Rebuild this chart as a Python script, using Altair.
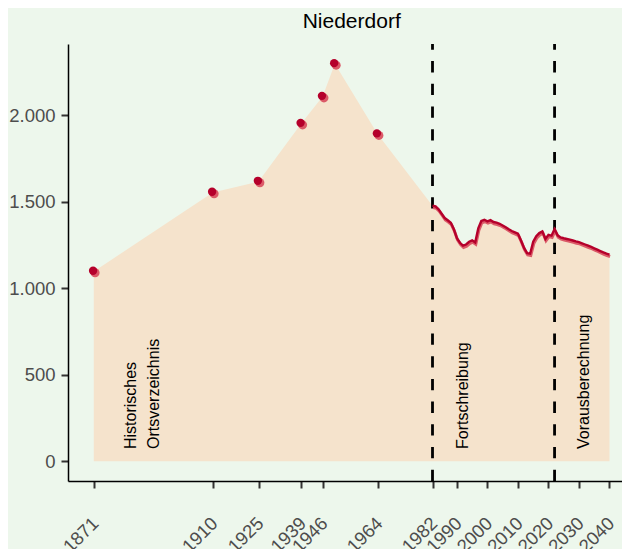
import altair as alt
import pandas as pd

# ---- data ----
hist_years = [1871, 1910, 1925, 1939, 1946, 1950, 1964]
hist_values = [1096, 1553, 1616, 1951, 2107, 2296, 1890]

series_years = list(range(1982, 2041))
series_values = [
    1476, 1472, 1455, 1430, 1405, 1392, 1378, 1340, 1289, 1262,
    1245, 1252, 1268, 1276, 1264, 1345, 1388, 1395, 1386, 1393,
    1382, 1378, 1372, 1362, 1352, 1340, 1330, 1322, 1314, 1275,
    1232, 1202, 1199, 1268, 1300, 1318, 1328, 1284, 1308, 1303,
    1341, 1305, 1293, 1288, 1284, 1280, 1275, 1270, 1266, 1259,
    1252, 1245, 1238, 1230, 1222, 1214, 1206, 1199, 1193,
]

break_years = [1982, 2022]
x_ticks = [1871, 1910, 1925, 1939, 1946, 1964, 1982, 1990, 2000, 2010, 2020, 2030, 2040]
y_ticks = [0, 500, 1000, 1500, 2000]

note_texts = ["Historisches\nOrtsverzeichnis", "Fortschreibung", "Vorausberechnung"]
note_years = [1884.9, 1993.5, 2033.3]
note_values = [70, 70, 70]

# ---- tables ----
hist = pd.DataFrame({"year": hist_years, "value": hist_values})
series = pd.DataFrame({"year": series_years, "value": series_values})
allpts = pd.concat([hist, series], ignore_index=True)
breaks = pd.DataFrame({"year": break_years})
notes = pd.DataFrame({"year": note_years, "value": note_values, "label": note_texts})

FONT = "Liberation Sans"
BG = "#EDF7EC"
AREA = "#F5E3CC"
DARK = "#B5002B"
LIGHT = "#DB5A68"

W, H = 554, 437
xscale = alt.Scale(domain=[1862.55, 2044.10], nice=False, zero=False)
yscale = alt.Scale(domain=[-114.8, 2410.8], nice=False, zero=False)

xaxis = alt.Axis(
    values=x_ticks, format="d", title=None, grid=False,
    labelAngle=315, labelAlign="right", labelBaseline="top",
    labelPadding=25.5, labelOffset=-5, labelOverlap=False, labelFlush=False,
    labelBound=False,
    labelFontSize=18.5, labelFont=FONT, labelColor="#4D4D4D",
    tickSize=7, tickWidth=2, tickColor="#333333",
    domainColor="#000000", domainWidth=1.5,
)
yaxis = alt.Axis(
    values=y_ticks, title=None, grid=False,
    labelExpr="replace(format(datum.value, ',d'), ',', '.')",
    labelPadding=6, labelFontSize=18.5, labelFont=FONT, labelColor="#4D4D4D",
    tickSize=7, tickWidth=2, tickColor="#333333",
    domainColor="#000000", domainWidth=1.5,
)

base_x = alt.X("year:Q", scale=xscale, axis=xaxis)
base_y = alt.Y("value:Q", scale=yscale, axis=yaxis)

area = alt.Chart(allpts).mark_area(color=AREA, opacity=1).encode(
    x=base_x, y=base_y, y2=alt.datum(0)
)

rules = alt.Chart(breaks).mark_rule(
    color="black", strokeWidth=2.8, strokeDash=[11.3, 11.4]
).encode(
    x=alt.X("year:Q", scale=xscale, axis=xaxis),
    y=alt.value(H), y2=alt.value(0),
)

line_light = alt.Chart(series).mark_line(
    color=LIGHT, strokeWidth=3, yOffset=1.8, xOffset=0.6
).encode(x=base_x, y=base_y)
line_dark = alt.Chart(series).mark_line(
    color=DARK, strokeWidth=2.4
).encode(x=base_x, y=base_y)

pts_light = alt.Chart(hist).mark_circle(
    color=LIGHT, size=82, opacity=1, xOffset=1.3, yOffset=1.3
).encode(x=base_x, y=base_y)
pts_dark = alt.Chart(hist).mark_circle(
    color=DARK, size=70, opacity=1, xOffset=-0.7, yOffset=-0.7
).encode(x=base_x, y=base_y)

texts = alt.Chart(notes).mark_text(
    angle=270, align="left", baseline="alphabetic", fontSize=16,
    lineHeight=23.3, lineBreak="\n", font=FONT, color="black"
).encode(x=base_x, y=base_y, text="label:N")

chart = alt.layer(
    area, rules, line_light, line_dark, pts_light, pts_dark, texts
).properties(
    width=W, height=H,
    title=alt.Title(
        "Niederdorf", fontSize=21, font=FONT, fontWeight="normal",
        color="black", anchor="middle", offset=11, dx=6.7,
    ),
    autosize=alt.AutoSizeParams(type="none"),
    padding={"left": 60, "top": 36, "right": 0, "bottom": 68},
).configure(background=BG).configure_view(stroke=None)

chart.save("out.html", embed_options={"renderer": "svg", "actions": False})
